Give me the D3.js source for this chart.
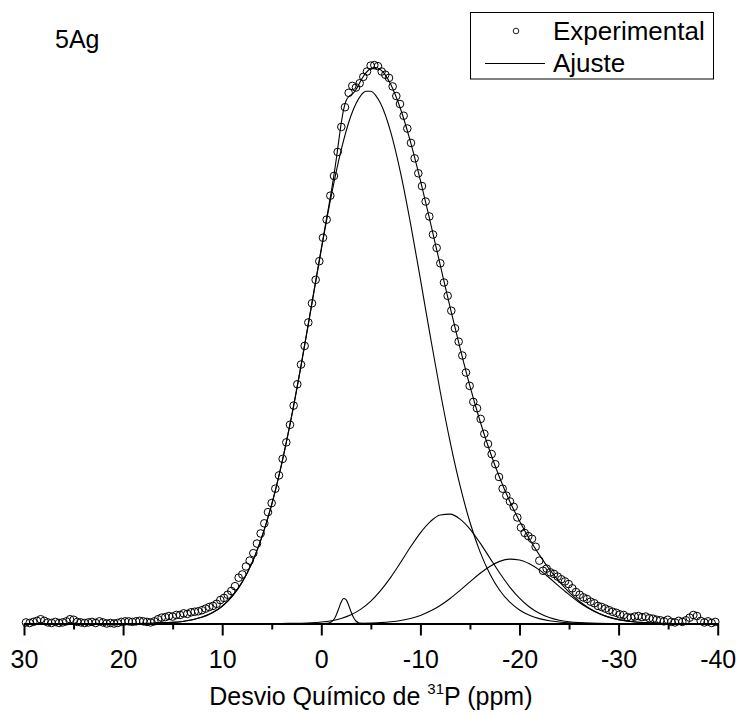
<html>
<script src="https://d3js.org/d3.v7.min.js"></script>
<style>
body { margin: 0; background: #fff; }
text { font-family: "Liberation Sans", Arial, sans-serif; fill: #000; }
</style>
<body onload="init()">
<svg width="736" height="715"></svg>
<script>
// experimental 31P spectrum (ppm, intensity)
const expShift = [29.8, 29.43, 29.06, 28.69, 28.32, 27.95, 27.58, 27.21, 26.84, 26.47, 26.1, 25.73, 25.36, 24.99, 24.62, 24.25, 23.88, 23.51, 23.14, 22.77, 22.4, 22.03, 21.66, 21.29, 20.92, 20.55, 20.18, 19.81, 19.44, 19.07, 18.7, 18.33, 17.96, 17.59, 17.22, 16.85, 16.48, 16.11, 15.74, 15.37, 15.0, 14.63, 14.26, 13.89, 13.52, 13.15, 12.78, 12.41, 12.04, 11.67, 11.3, 10.93, 10.56, 10.19, 9.82, 9.45, 9.08, 8.71, 8.34, 7.97, 7.6, 7.23, 6.86, 6.49, 6.12, 5.75, 5.38, 5.01, 4.64, 4.27, 3.9, 3.53, 3.16, 2.79, 2.42, 2.05, 1.68, 1.31, 0.94, 0.57, 0.2,
  -0.17, -0.54, -0.91, -1.28, -1.65, -2.02, -2.39, -2.76, -3.13, -3.5, -3.87, -4.24, -4.61, -4.98, -5.35, -5.72, -6.09, -6.46, -6.83, -7.2, -7.57, -7.94, -8.31, -8.68, -9.05, -9.42, -9.79, -10.16, -10.53, -10.9, -11.27, -11.64, -12.01, -12.38, -12.75, -13.12, -13.49, -13.86, -14.23, -14.6, -14.97, -15.34, -15.71, -16.08, -16.45, -16.82, -17.19, -17.56, -17.93, -18.3, -18.67, -19.04, -19.41, -19.78, -20.15, -20.52, -20.89, -21.26, -21.63, -22.0, -22.37, -22.74, -23.11, -23.48, -23.85, -24.22, -24.59, -24.96, -25.33, -25.7, -26.07, -26.44, -26.81, -27.18, -27.55, -27.92, -28.29, -28.66, -29.03, -29.4, -29.77, -30.14, -30.51, -30.88, -31.25, -31.62, -31.99, -32.36, -32.73, -33.1, -33.47, -33.84, -34.21, -34.58, -34.95, -35.32, -35.69, -36.06, -36.43, -36.8, -37.17, -37.54, -37.91, -38.28, -38.65, -39.02, -39.39, -39.76];
const expIntensity = [0.2, 0.1, 0.3, 0.5, 0.8, 0.5, 0.2, 0.1, 0.3, 0.1, 0.2, 0.4, 0.8, 0.7, 0.3, 0.2, 0.1, 0.2, 0.3, 0.1, 0.4, 0.2, 0.0, 0.1, 0.0, 0.1, 0.3, 0.4, 0.4, 0.3, 0.4, 0.5, 0.4, 0.3, 0.2, 0.4, 0.8, 1.1,
  1.2, 1.4, 1.3, 1.6, 1.6, 1.9, 1.8, 2.1, 2.2, 2.3, 2.5, 2.8, 3.1, 3.3, 3.7, 4.4, 4.8, 5.4, 6.1, 7.0, 8.6, 9.2, 10.7, 11.8, 13.2, 15.0, 16.9, 18.8, 20.9, 22.6, 25.3, 27.8, 30.9, 34.0, 37.3, 40.9, 44.9, 48.6, 52.1, 56.5, 60.1, 64.5, 68.0,
  72.4, 75.8, 80.3, 84.0, 88.5, 93.2, 96.9, 99.6, 100.9, 100.6, 101.4, 102.6, 103.6, 104.7, 104.8, 104.6, 103.6, 103.0, 102.4, 100.8, 99.0, 97.5, 95.3, 92.9, 90.2, 87.3, 84.5, 82.1, 79.2, 76.4, 73.0, 70.5, 67.6, 64.0, 61.5, 58.7, 55.4, 52.9, 50.3, 47.1, 44.6, 41.6, 40.4, 38.4, 35.6, 33.7, 31.8, 29.9, 27.5, 25.3, 24.0, 22.9, 21.9, 19.9, 18.0, 17.0, 16.4, 15.9, 14.4, 11.8, 9.9, 10.3, 9.6, 9.3, 8.8, 8.3, 7.9, 7.4, 6.6, 5.9, 5.4, 4.9, 4.6, 4.1, 3.8, 3.3, 3.1, 2.8, 2.5, 2.2, 2.0, 1.7, 1.6, 1.2, 1.1, 1.3, 1.4, 1.2, 1.3, 1.0, 0.9, 0.7, 0.6, 0.4, 0.7, 0.3, 0.2, 0.5, 0.3, 0.6, 1.1, 1.6, 1.4, 0.5, 0.2, 0.4, 0.1, 0.3];

// total fit ("Ajuste")
const fitCurve = [[30, 0], [20, 0], [17, 0.06], [16, 0.11], [15, 0.21], [14, 0.39], [13, 0.70], [12, 1.20], [11, 2.01], [10, 3.24], [9, 5.09], [8, 7.72], [7, 11.37], [6, 16.20], [5, 22.38], [4, 29.97], [3, 38.86], [2, 48.90], [1, 59.60], [0, 70.42], [-0.5, 75.70], [-0.75, 78.31], [-1, 80.98], [-1.25, 83.83], [-1.5, 87.00], [-1.75, 90.43], [-2, 93.77], [-2.25, 96.46], [-2.5, 98.12], [-2.75, 98.86], [-3, 99.20], [-3.25, 99.58], [-3.5, 100.22], [-3.75, 101.06], [-4, 101.92], [-4.25, 102.71], [-4.5, 103.36], [-5, 104.18], [-5.5, 104.35], [-6, 103.90], [-6.5, 102.84], [-7, 101.23], [-8, 96.57], [-9, 90.40], [-10, 83.17], [-11, 75.35], [-12, 67.30], [-13, 59.32], [-14, 51.68], [-15, 44.55], [-16, 38.10], [-17, 32.37], [-18, 27.37], [-19, 23.01], [-20, 19.22], [-21, 15.86], [-22, 12.89], [-23, 10.23], [-24, 7.89], [-25, 5.89], [-26, 4.23], [-27, 2.92], [-28, 1.91], [-29, 1.20], [-30, 0.73], [-31, 0.42], [-32, 0.23], [-33, 0.12], [-34, 0.06], [-36, 0], [-40, 0]];

// fitted components
const peakMain = [[30, 0], [20, 0], [17, 0.06], [16, 0.11], [15, 0.21], [14, 0.39], [13, 0.70], [12, 1.20], [11, 2.01], [10, 3.24], [9, 5.09], [8, 7.72], [7, 11.37], [6, 16.20], [5, 22.38], [4, 29.97], [3, 38.86], [2, 48.84], [1, 59.47], [0, 70.15], [-1, 80.19], [-2, 88.83], [-3, 95.34], [-4, 99.14], [-4.5, 99.91], [-5, 99.89], [-5.5, 99.09], [-6, 97.53], [-7, 92.26], [-8, 84.56], [-9, 75.10], [-10, 64.63], [-11, 53.89], [-12, 43.54], [-13, 34.09], [-14, 25.86], [-15, 19.00], [-16, 13.53], [-17, 9.34], [-18, 6.24], [-19, 4.04], [-20, 2.54], [-21, 1.54], [-22, 0.91], [-23, 0.52], [-24, 0.29], [-25, 0.15], [-26, 0.08], [-28, 0], [-40, 0]];
const peakSecond = [[30, 0], [4, 0], [3, 0.03], [2, 0.06], [1, 0.13], [0, 0.27], [-1, 0.52], [-2, 0.95], [-3, 1.64], [-4, 2.70], [-5, 4.20], [-6, 6.20], [-7, 8.65], [-8, 11.45], [-9, 14.35], [-10, 17.02], [-11, 19.13], [-12, 20.37], [-13, 20.53], [-14, 19.60], [-15, 17.73], [-16, 15.19], [-17, 12.32], [-18, 9.47], [-19, 6.89], [-20, 4.75], [-21, 3.10], [-22, 1.92], [-23, 1.12], [-24, 0.62], [-25, 0.33], [-26, 0.16], [-27, 0.07], [-29, 0], [-40, 0]];
const peakThird = [[30, 0], [-3, 0], [-4, 0.04], [-5, 0.09], [-6, 0.17], [-7, 0.32], [-8, 0.56], [-9, 0.95], [-10, 1.52], [-11, 2.33], [-12, 3.39], [-13, 4.70], [-14, 6.22], [-15, 7.82], [-16, 9.38], [-17, 10.71], [-18, 11.66], [-19, 12.08], [-20, 11.93], [-21, 11.22], [-22, 10.06], [-23, 8.59], [-24, 6.98], [-25, 5.41], [-26, 3.99], [-27, 2.81], [-28, 1.88], [-29, 1.20], [-30, 0.73], [-31, 0.42], [-32, 0.23], [-33, 0.12], [-34, 0.06], [-36, 0], [-40, 0]];
const peakSmall = [[30, 0], [0, 0], [-0.25, 0], [-0.5, 0.02], [-0.75, 0.08], [-1, 0.27], [-1.25, 0.71], [-1.5, 1.56], [-1.75, 2.76], [-2, 3.99], [-2.25, 4.69], [-2.5, 4.48], [-2.75, 3.48], [-3, 2.20], [-3.25, 1.13], [-3.5, 0.47], [-3.75, 0.16], [-4, 0.04], [-4.5, 0], [-40, 0]];

const majorTicks = [30, 20, 10, 0, -10, -20, -30, -40];
const minorTicks = [25, 15, 5, -5, -15, -25, -35];

function init() {
    const svg = d3.select("svg");

    const x = d3.scaleLinear().domain([30, -40]).range([24, 717.7]);
    const y = d3.scaleLinear().domain([0, 100]).range([623.5, 90.7]);

    const line = d3.line()
        .x(d => x(d[0]))
        .y(d => y(d[1]))
        .curve(d3.curveMonotoneX);

    // components first, then the total fit
    [peakMain, peakSecond, peakThird, peakSmall, fitCurve].forEach(c => {
        svg.append("path")
            .datum(c)
            .attr("d", line)
            .attr("fill", "none")
            .attr("stroke", "#000")
            .attr("stroke-width", 1.1);
    });

    svg.append("g").selectAll("circle")
        .data(expShift.map((s, i) => [s, expIntensity[i]]))
        .enter()
        .append("circle")
        .attr("cx", d => x(d[0]))
        .attr("cy", d => y(d[1]))
        .attr("r", 3.8)
        .attr("fill", "none")
        .attr("stroke", "#000")
        .attr("stroke-width", 1);

    // x axis
    const xAxis = d3.axisBottom(x)
        .tickValues(majorTicks)
        .tickFormat(d => String(d))
        .tickSize(12)
        .tickSizeOuter(0)
        .tickPadding(15);
    const gx = svg.append("g")
        .attr("transform", "translate(0,623.5)")
        .call(xAxis);
    gx.select(".domain").attr("stroke-width", 2);
    gx.selectAll(".tick line").attr("stroke-width", 2);
    gx.selectAll(".tick text")
        .style("font-family", "'Liberation Sans', Arial, sans-serif")
        .style("font-size", "25px");

    const gm = svg.append("g")
        .attr("transform", "translate(0,623.5)")
        .call(d3.axisBottom(x).tickValues(minorTicks).tickFormat("").tickSize(6).tickSizeOuter(0));
    gm.select(".domain").remove();
    gm.selectAll(".tick line").attr("stroke-width", 2);

    // axis title
    const title = svg.append("text")
        .attr("x", (x(30) + x(-40)) / 2)
        .attr("y", 705)
        .attr("text-anchor", "middle")
        .style("font-size", "25px");
    title.append("tspan").text("Desvio Químico de ");
    title.append("tspan").text("31").style("font-size", "15px").attr("dy", -11);
    title.append("tspan").text("P (ppm)").attr("dy", 11);

    // sample label
    svg.append("text")
        .attr("x", 55)
        .attr("y", 48)
        .style("font-size", "25px")
        .text("5Ag");

    // legend
    const lg = svg.append("g");
    lg.append("rect")
        .attr("x", 470.5).attr("y", 12.5)
        .attr("width", 243).attr("height", 66.5)
        .attr("fill", "#fff")
        .attr("stroke", "#000")
        .attr("stroke-width", 1);
    lg.append("circle")
        .attr("cx", 516).attr("cy", 31).attr("r", 2.8)
        .attr("fill", "none").attr("stroke", "#000").attr("stroke-width", 0.9);
    lg.append("line")
        .attr("x1", 485).attr("x2", 545)
        .attr("y1", 63.5).attr("y2", 63.5)
        .attr("stroke", "#000").attr("stroke-width", 1.1);
    lg.append("text").attr("x", 553).attr("y", 40).style("font-size", "26px").text("Experimental");
    lg.append("text").attr("x", 553).attr("y", 72).style("font-size", "26px").text("Ajuste");
}
</script>
</body>
</html>
